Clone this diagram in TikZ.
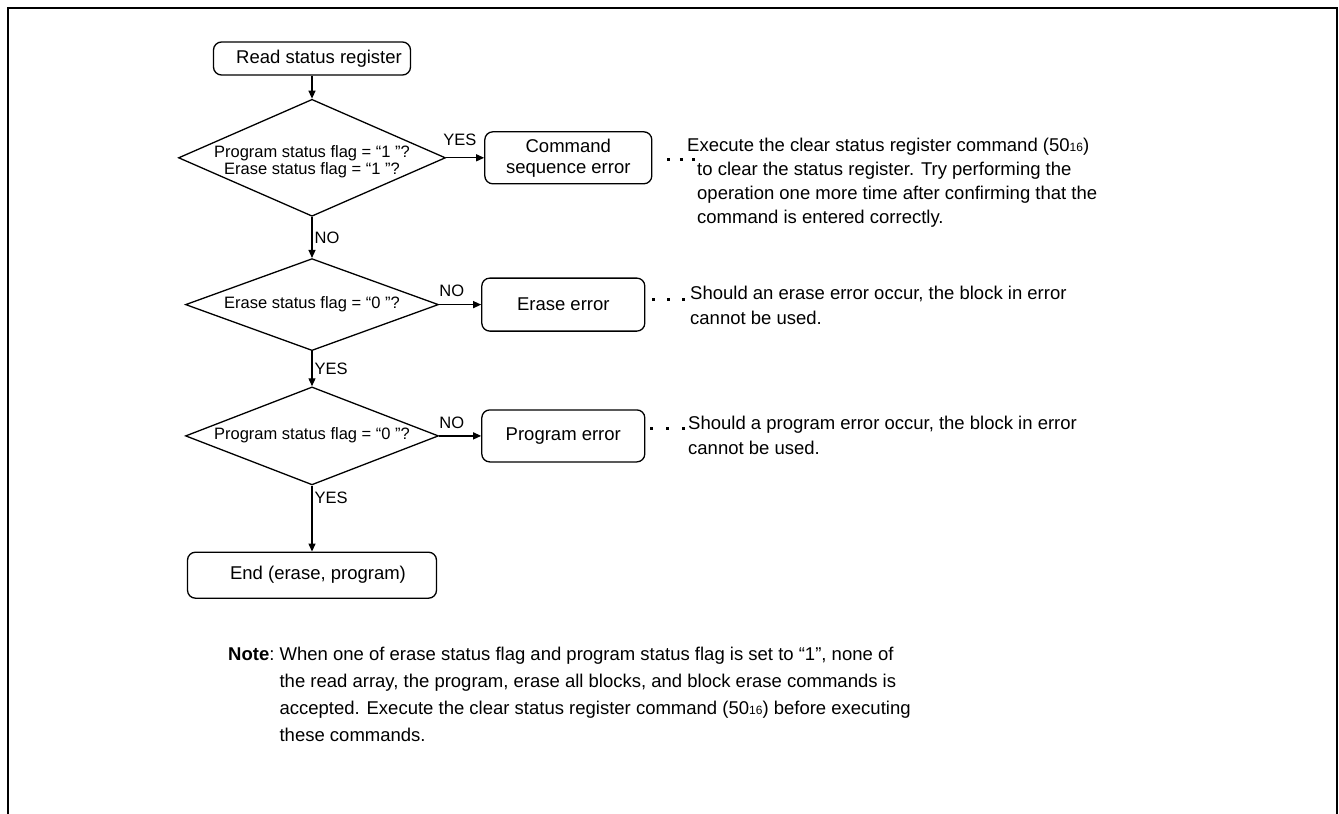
\documentclass[tikz,border=0pt]{standalone}
\usepackage{fontspec}
\setmainfont{Liberation Sans}
\usetikzlibrary{arrows.meta,positioning,shapes.geometric}
\newcommand{\hexsub}[1]{{\fontsize{12}{12}\selectfont #1}}
\newcommand{\diatext}[2][0pt]{\makebox[0pt]{\raisebox{#1}[\height][\depth]{\begin{tabular}{@{}c@{}}#2\end{tabular}}}}

\begin{document}
\begin{tikzpicture}[
  x=1pt, y=-1pt,
  box/.style={draw, rounded corners=8pt, align=center, line width=1.3pt, inner sep=0pt, font=\fontsize{18.5}{21}\selectfont},
  decision/.style={draw, diamond, aspect=1, inner sep=0pt, line width=1.3pt, font=\fontsize{16.5}{16.5}\selectfont},
  arrow/.style={-{Triangle[length=8pt,width=7pt]}, line width=1.3pt},
  lbl/.style={font=\fontsize{16.5}{16.5}\selectfont, inner sep=2pt},
  remark/.style={align=left, inner sep=0pt, anchor=north west, font=\fontsize{18.5}{25}\selectfont},
  leader/.style={line width=3pt, dash pattern=on 3pt off #1}
]
\useasboundingbox (0,0) rectangle (1339,814);
\draw[line width=2.5pt] (8,816) -- (8,8) -- (1337,8) -- (1337,816);

\node[box, minimum width=197pt, minimum height=33pt] (read) at (312,58.5) {\hspace*{14pt}Read status register};
\node[decision, minimum width=267pt, minimum height=117pt, below=23pt of read] (flags) {\diatext[-5pt]{Program status flag = “1 ”?\\Erase status flag = “1 ”?}};
\node[box, minimum width=167pt, minimum height=52pt, right=38pt of flags] (cmdseq) {Command\\sequence error};
\node[decision, minimum width=253pt, minimum height=92pt, below=41pt of flags] (erasechk) {\diatext{Erase status flag = “0 ”?}};
\node[box, minimum width=163pt, minimum height=53pt, right=42pt of erasechk] (eraseerr) {Erase error};
\node[decision, minimum width=253pt, minimum height=98pt, below=35pt of erasechk] (progchk) {\diatext{Program status flag = “0 ”?}};
\node[box, minimum width=163pt, minimum height=52pt, right=42pt of progchk] (progerr) {Program error};
\node[box, minimum width=249pt, minimum height=46pt, below=66pt of progchk] (finish) {\hspace*{12pt}End (erase, program)};

\node[remark, font=\fontsize{18.5}{24}\selectfont] (cmdnote) at (697,138) {\hspace*{-10pt}Execute the clear status register command (50\hexsub{16})\\to clear the status register. Try performing the\\operation one more time after confirming that the\\command is entered correctly.};
\node[remark] (erasenote) at (690,286) {Should an erase error occur, the block in error\\cannot be used.};
\node[remark] (prognote) at (688,416) {Should a program error occur, the block in error\\cannot be used.};
\node[remark, font=\fontsize{18.5}{27}\selectfont] (note) at (228,641) {\begin{tabular}{@{}l@{\ }l@{}}
\textbf{Note}: & When one of erase status flag and program status flag is set to “1”, none of\\
 & the read array, the program, erase all blocks, and block erase commands is\\
 & accepted. Execute the clear status register command (50\hexsub{16}) before executing\\
 & these commands.
\end{tabular}};

\draw[arrow] (read.south) -- (flags.north);
\draw[arrow] (flags.east) -- node[lbl, above=9pt, pos=.36]{YES} (flags.east -| cmdseq.west);
\draw[arrow] (flags.south) -- node[lbl, right]{NO} (erasechk.north);
\draw[arrow] (erasechk.east) -- node[lbl, above=5pt, pos=.3]{NO} (eraseerr.west);
\draw[arrow] (erasechk.south) -- node[lbl, right]{YES} (progchk.north);
\draw[arrow] (progchk.east) -- node[lbl, above=5pt, pos=.3]{NO} (progerr.west);
\draw[arrow] (progchk.south) -- node[lbl, right, pos=.18]{YES} (finish.north);

\draw[leader=9.5pt] ([xshift=15pt, yshift=-2pt]cmdseq.east) -- ++(28,0);
\draw[leader=12pt] ([xshift=7pt, yshift=5pt]eraseerr.east) -- ++(33,0);
\draw[leader=13pt] ([xshift=5pt, yshift=7pt]progerr.east) -- ++(35,0);
\end{tikzpicture}
\end{document}
